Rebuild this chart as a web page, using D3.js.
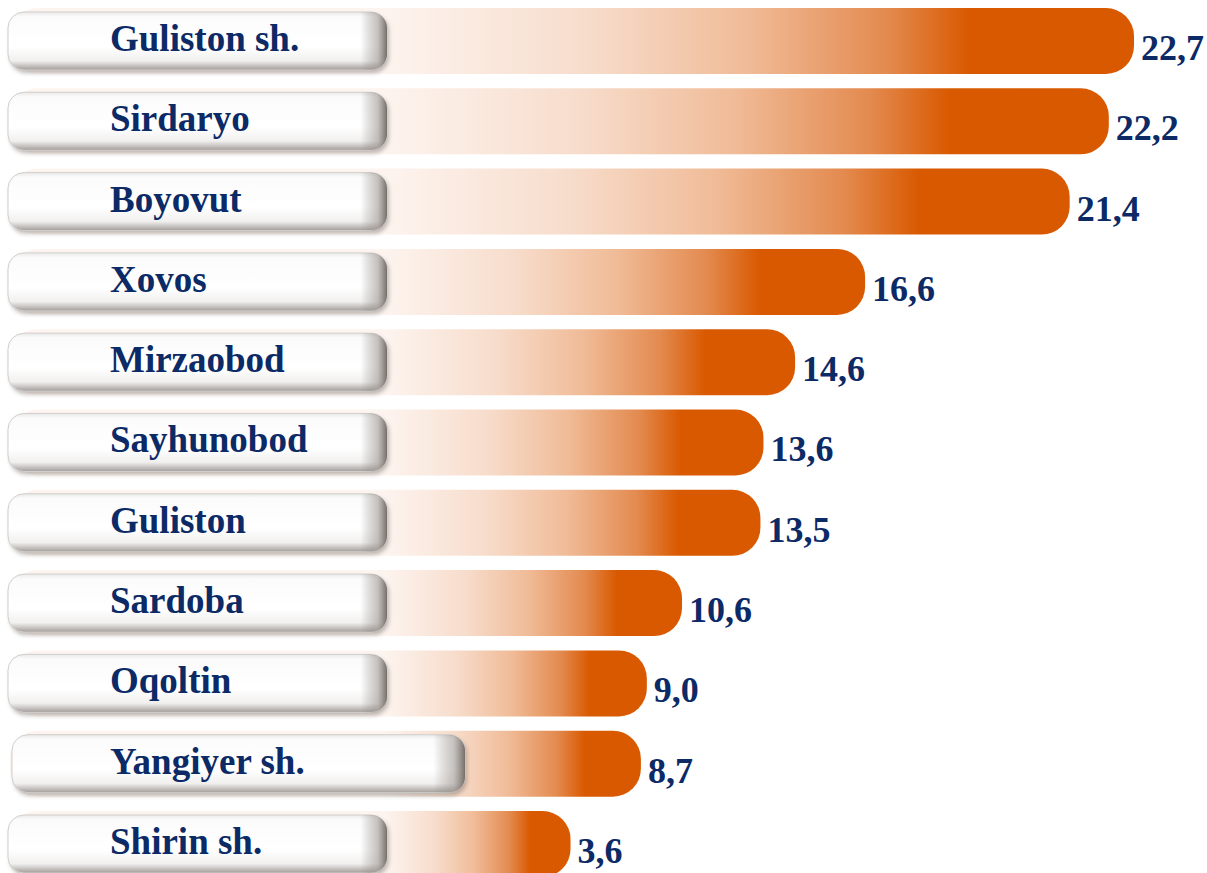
<!DOCTYPE html>
<html>
<head>
<meta charset="utf-8">
<script src="https://cdn.jsdelivr.net/npm/d3@7"></script>
<style>
  body { margin: 0; background: #fff; }
  svg { display: block; }
</style>
</head>
<body>
<div id="chart"></div>
<script>
// data
var districts = ["Guliston sh.", "Sirdaryo", "Boyovut", "Xovos", "Mirzaobod", "Sayhunobod",
                 "Guliston", "Sardoba", "Oqoltin", "Yangiyer sh.", "Shirin sh."];
var values = [22.7, 22.2, 21.4, 16.6, 14.6, 13.6, 13.5, 10.6, 9.0, 8.7, 3.6];
var valueLabels = ["22,7", "22,2", "21,4", "16,6", "14,6", "13,6", "13,5", "10,6", "9,0", "8,7", "3,6"];

var width = 1207, height = 873;
var pillX = 8, pillW = 379, pillH = 58;
var barStart = 10;

var svg = d3.select("#chart").append("svg")
	.attr("width", width)
	.attr("height", height);

svg.append("rect").attr("width", width).attr("height", height).attr("fill", "#fff");

var rows = districts.map(function(d, i){
	return {name: d, value: values[i], label: valueLabels[i]};
});

// scales
var y = d3.scaleBand()
	.domain(districts)
	.range([8, 877])
	.paddingInner(0.178)
	.paddingOuter(0);

// the infographic isn't drawn to a linear scale, a square scale follows it best
var x = d3.scalePow().exponent(2)
	.domain([0, d3.max(values)])
	.range([556, 1134]);

var defs = svg.append("defs");

// per-bar gradients (white -> orange, solid toward the end)
rows.forEach(function(d, i){
	var end = x(d.value);
	var g = defs.append("linearGradient")
		.attr("id", "barGrad" + i)
		.attr("gradientUnits", "userSpaceOnUse")
		.attr("x1", pillX + pillW - 2)
		.attr("x2", (pillX + pillW) + 0.78 * (end - pillX - pillW))
		.attr("y1", 0).attr("y2", 0);
	[[0, "#fdf4ef"], [0.35, "#f7dccb"], [0.62, "#f0bb97"], [0.86, "#e38a4f"], [1, "#d95900"]]
		.forEach(function(s){
			g.append("stop").attr("offset", s[0]).attr("stop-color", s[1]);
		});
});

// pill gradients
var pg = defs.append("linearGradient").attr("id", "pillGrad")
	.attr("x1", 0).attr("x2", 0).attr("y1", 0).attr("y2", 1);
[[0, "#e9e9e9"], [0.08, "#fbfbfb"], [0.6, "#ffffff"], [0.84, "#f1f0ef"], [1, "#a39d99"]]
	.forEach(function(s){ pg.append("stop").attr("offset", s[0]).attr("stop-color", s[1]); });

var pe = defs.append("linearGradient").attr("id", "pillEdge")
	.attr("x1", 0).attr("x2", 1).attr("y1", 0).attr("y2", 0);
[[0, "#8a827d", 0], [0.93, "#8a827d", 0], [0.975, "#9a928c", 0.55], [1, "#6e6762", 0.95]]
	.forEach(function(s){
		pe.append("stop").attr("offset", s[0]).attr("stop-color", s[1]).attr("stop-opacity", s[2]);
	});

var blur = defs.append("filter").attr("id", "shadow")
	.attr("x", "-10%").attr("y", "-30%").attr("width", "120%").attr("height", "160%");
blur.append("feGaussianBlur").attr("stdDeviation", 2.2);

// bars
svg.append("g").selectAll("rect")
	.data(rows)
	.enter().append("rect")
		.attr("x", barStart)
		.attr("y", function(d){ return y(d.name); })
		.attr("width", function(d){ return x(d.value) - barStart; })
		.attr("height", y.bandwidth())
		.attr("rx", 28).attr("ry", 28)
		.attr("fill", function(d, i){ return "url(#barGrad" + i + ")"; });

// value labels
svg.append("g").selectAll("text")
	.data(rows)
	.enter().append("text")
		.attr("x", function(d){ return x(d.value) + 7; })
		.attr("y", function(d){ return y(d.name) + 52; })
		.attr("font-family", "'Liberation Serif', 'Times New Roman', serif")
		.attr("font-weight", "bold")
		.attr("font-size", "36px")
		.attr("fill", "#0c2a66")
		.text(function(d){ return d.label; });

// label pills
function pillWidth(d){ return d.name == "Yangiyer sh." ? 453 : pillW; }
function pillLeft(d){ return d.name == "Yangiyer sh." ? 12 : pillX; }

var pills = svg.append("g").selectAll("g")
	.data(rows)
	.enter().append("g")
		.attr("transform", function(d){
			return "translate(" + pillLeft(d) + "," + (y(d.name) + 4) + ")";
		});

pills.append("rect")
	.attr("x", 2).attr("y", 3)
	.attr("width", pillWidth).attr("height", pillH)
	.attr("rx", 16).attr("ry", 16)
	.attr("fill", "#6f6862")
	.attr("opacity", 0.45)
	.attr("filter", "url(#shadow)");

pills.append("rect")
	.attr("width", pillWidth).attr("height", pillH)
	.attr("rx", 16).attr("ry", 16)
	.attr("fill", "url(#pillGrad)")
	.attr("stroke", "#d2d0ce")
	.attr("stroke-width", 1);

pills.append("rect")
	.attr("width", pillWidth).attr("height", pillH)
	.attr("rx", 16).attr("ry", 16)
	.attr("fill", "url(#pillEdge)");

pills.append("text")
	.attr("x", function(d){ return 110 - pillLeft(d); })
	.attr("y", 39)
	.attr("font-family", "'Liberation Serif', 'Times New Roman', serif")
	.attr("font-weight", "bold")
	.attr("font-size", "37px")
	.attr("fill", "#0c2a66")
	.text(function(d){ return d.name; });
</script>
</body>
</html>
